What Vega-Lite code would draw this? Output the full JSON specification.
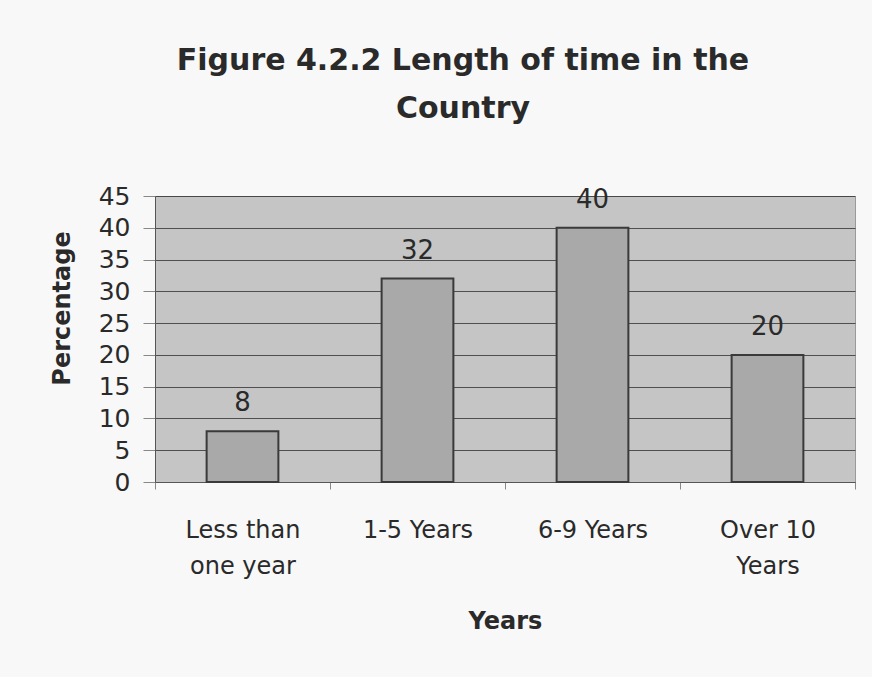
{
  "$schema": "https://vega.github.io/schema/vega-lite/v6.json",
  "autosize": "none",
  "width": 700,
  "height": 286,
  "padding": {"left": 155, "top": 196, "right": 17, "bottom": 195},
  "background": "#f8f8f8",
  "title": {
    "text": ["Figure 4.2.2 Length of time in the", "Country"],
    "font": "DejaVu Sans",
    "fontSize": 30,
    "fontWeight": "bold",
    "color": "#2a2a2a",
    "anchor": "middle",
    "dx": -42,
    "offset": 60,
    "lineHeight": 48
  },
  "data": {
    "values": [
      {"years": "Less than one year", "pct": 8},
      {"years": "1-5 Years", "pct": 32},
      {"years": "6-9 Years", "pct": 40},
      {"years": "Over 10 Years", "pct": 20}
    ]
  },
  "config": {
    "view": {"fill": "#c5c5c5", "stroke": "#9a9a9a", "strokeWidth": 1},
    "font": "DejaVu Sans"
  },
  "encoding": {
    "x": {
      "field": "years",
      "type": "nominal",
      "sort": null,
      "scale": {"paddingInner": 0, "paddingOuter": 0},
      "axis": {
        "title": "Years",
        "titleFont": "DejaVu Sans",
        "titleFontSize": 24,
        "titleFontWeight": "bold",
        "titleColor": "#2a2a2a",
        "titleBaseline": "alphabetic",
        "titleY": 146,
        "labelAngle": 0,
        "labelFont": "DejaVu Sans",
        "labelFontSize": 24,
        "labelColor": "#2a2a2a",
        "labelPadding": 29,
        "labelLineHeight": 36,
        "labelExpr": "datum.value == 'Less than one year' ? ['Less than', 'one year'] : datum.value == 'Over 10 Years' ? ['Over 10', 'Years'] : datum.value",
        "tickBand": "extent",
        "tickColor": "#888888",
        "tickSize": 7,
        "domainColor": "#555555"
      }
    },
    "y": {
      "field": "pct",
      "type": "quantitative",
      "scale": {"domain": [0, 45]},
      "axis": {
        "title": "Percentage",
        "titleFont": "DejaVu Sans",
        "titleFontSize": 24,
        "titleFontWeight": "bold",
        "titleColor": "#2a2a2a",
        "titleAngle": 270,
        "titleBaseline": "middle",
        "titleAlign": "center",
        "titleX": -93,
        "titleY": 112,
        "values": [0, 5, 10, 15, 20, 25, 30, 35, 40, 45],
        "labelFont": "DejaVu Sans",
        "labelFontSize": 25,
        "labelColor": "#2a2a2a",
        "labelPadding": 13,
        "tickColor": "#888888",
        "tickSize": 12,
        "domainColor": "#555555",
        "gridColor": "#3a3a3a",
        "gridWidth": 1,
        "gridOpacity": 0.85
      }
    }
  },
  "layer": [
    {
      "mark": {"type": "bar", "width": {"band": 0.41}, "fill": "#a9a9a9", "stroke": "#3a3a3a", "strokeWidth": 2}
    },
    {
      "mark": {"type": "text", "baseline": "alphabetic", "dy": -20, "fontSize": 26, "color": "#2a2a2a", "font": "DejaVu Sans"},
      "encoding": {"text": {"field": "pct", "type": "quantitative"}}
    }
  ]
}
